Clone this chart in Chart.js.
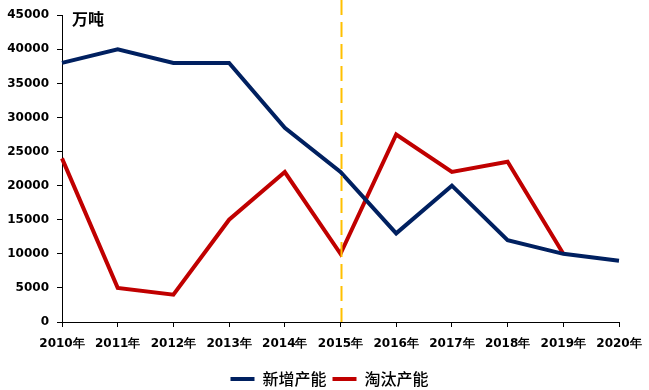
<!DOCTYPE html>
<html><head><meta charset="utf-8">
<script src="https://cdn.jsdelivr.net/npm/chart.js@4/dist/chart.umd.min.js"></script>
<style>html,body{margin:0;padding:0;background:#fff;}#wrap{width:649px;height:390px;}</style>
</head><body><div id="wrap"><canvas id="c" width="649" height="390"></canvas></div>
<script>
const categories = ['2010年','2011年','2012年','2013年','2014年','2015年','2016年','2017年','2018年','2019年','2020年'];
const newCapacity = [38000,40000,38000,38000,28500,22000,13000,20000,12000,10000,9000];
const retiredCapacity = [24000,5000,4000,15000,22000,10000,27500,22000,23500,10000,null];
const seriesNames = ['新增产能','淘汰产能'];
const unitLabel = '万吨';
const markerCategory = '2015年';

const tickFont = {family:'"DejaVu Sans", sans-serif', size:12, weight:'bold'};

const extras = {
  id:'extras',
  afterLayout(chart){
    if (chart.legend) { chart.legend.left += 20; chart.legend.right += 20; }
  },
  afterDatasetsDraw(chart){
    const {ctx, scales:{x}, chartArea} = chart;
    const px = Math.round(x.getPixelForValue(categories.indexOf(markerCategory))) + 0.5;
    ctx.save();
    ctx.strokeStyle = '#FFC000';
    ctx.lineWidth = 2;
    ctx.setLineDash([15,7]);
    ctx.beginPath();
    ctx.moveTo(px, 0);
    ctx.lineTo(px, chartArea.bottom);
    ctx.stroke();
    ctx.restore();
  },
  afterDraw(chart){
    const {ctx, chartArea} = chart;
    ctx.save();
    ctx.fillStyle = '#000';
    ctx.font = 'bold 16px "Noto Sans CJK SC", sans-serif';
    ctx.textBaseline = 'middle';
    ctx.fillText(unitLabel, chartArea.left + 10, 19);
    ctx.restore();
  }
};

new Chart(document.getElementById('c'), {
  type:'line',
  data:{
    labels:categories,
    datasets:[
      {label:seriesNames[0], data:newCapacity, borderColor:'#002060', backgroundColor:'#002060', borderWidth:4, pointRadius:0, tension:0, spanGaps:false},
      {label:seriesNames[1], data:retiredCapacity, borderColor:'#C00000', backgroundColor:'#C00000', borderWidth:4, pointRadius:0, tension:0, spanGaps:false}
    ]
  },
  options:{
    responsive:false,
    animation:false,
    layout:{padding:{top:15, right:30, left:0, bottom:-7}},
    plugins:{
      tooltip:{enabled:false},
      legend:{
        position:'bottom',
        labels:{
          boxWidth:24, boxHeight:4, padding:6, color:'#000',
          font:{family:'"Noto Sans CJK SC", sans-serif', size:16, weight:'500', lineHeight:1},
          generateLabels(chart){
            return Chart.defaults.plugins.legend.labels.generateLabels(chart).map(l=>Object.assign(l,{lineWidth:0}));
          }
        }
      }
    },
    scales:{
      x:{
        type:'category',
        offset:false,
        grid:{display:true, drawOnChartArea:false, tickLength:5, color:'#000'},
        border:{display:true, color:'#000', width:1},
        ticks:{color:'#000', font:tickFont, maxRotation:0, autoSkip:false, padding:10},
        afterFit(s){ s.height = 43; s.paddingLeft = 0; s.paddingRight = 0; }
      },
      y:{
        min:0, max:45000,
        grid:{display:true, drawOnChartArea:false, tickLength:5, color:'#000'},
        border:{display:true, color:'#000', width:1},
        ticks:{stepSize:5000, color:'#000', font:tickFont, padding:8, callback:v=>String(v)},
        afterFit(s){ s.width = 62; }
      }
    }
  },
  plugins:[extras]
});
</script></body></html>
